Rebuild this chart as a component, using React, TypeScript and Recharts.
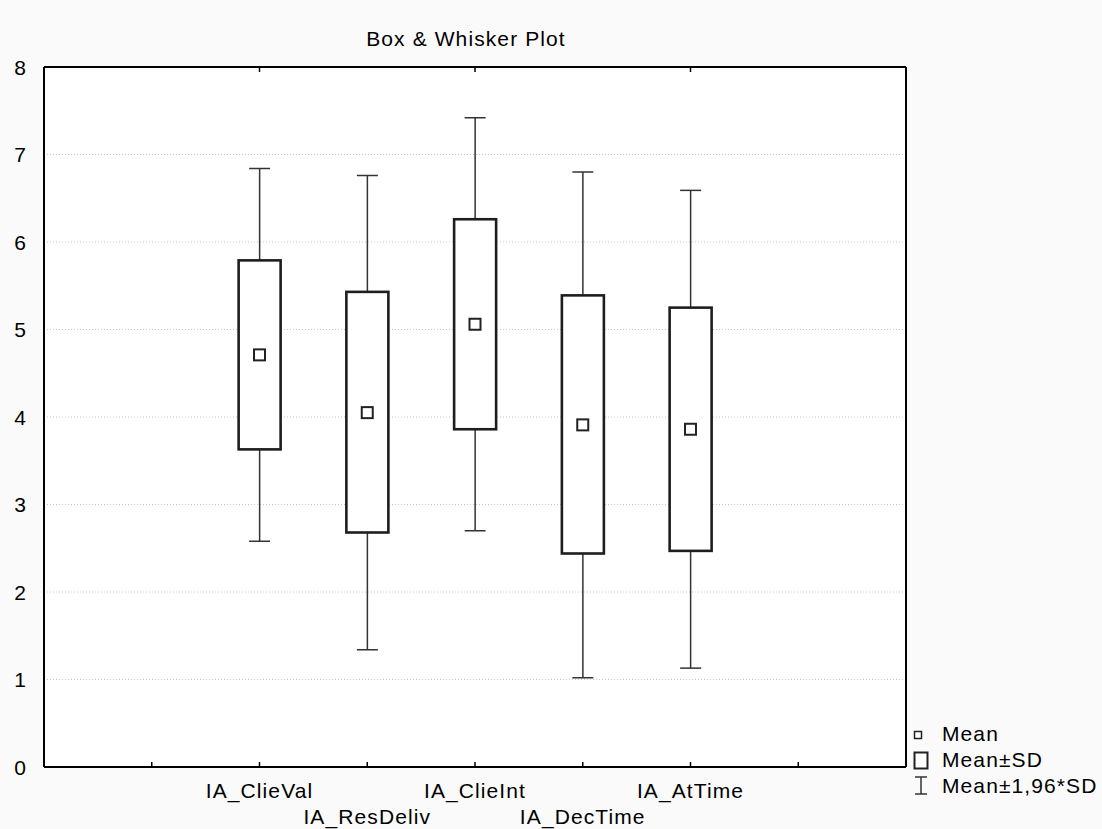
import { ComposedChart, Bar, Scatter, XAxis, YAxis, CartesianGrid } from 'recharts';

const categories = ['IA_ClieVal', 'IA_ResDeliv', 'IA_ClieInt', 'IA_DecTime', 'IA_AtTime'];
const slots = [2, 3, 4, 5, 6];
const means = [4.71, 4.05, 5.06, 3.91, 3.86];
const sdLow = [3.63, 2.68, 3.86, 2.44, 2.47];
const sdHigh = [5.79, 5.43, 6.26, 5.39, 5.25];
const whiskLow = [2.58, 1.34, 2.7, 1.02, 1.13];
const whiskHigh = [6.84, 6.76, 7.42, 6.8, 6.59];
const xTicks = [1, 2, 3, 4, 5, 6, 7];
const yTicks = [0, 1, 2, 3, 4, 5, 6, 7, 8];

const data = categories.map((name, i) => ({
  name,
  slot: slots[i],
  mean: means[i],
  sdLow: sdLow[i],
  sdHigh: sdHigh[i],
  whiskLow: whiskLow[i],
  whiskHigh: whiskHigh[i],
}));

const FONT = '"Liberation Sans", Arial, sans-serif';

// whole box drawn from the whisker range the bar gets from the y scale
const BoxShape = (props: any) => {
  const { x, y, width, height, payload } = props;
  const k = height / (payload.whiskHigh - payload.whiskLow);
  const py = (v: number) => y + (payload.whiskHigh - v) * k;
  const cx = x + width / 2;
  const cap = 10.5;
  const boxW = 42;
  const top = py(payload.sdHigh);
  const bot = py(payload.sdLow);
  return (
    <g>
      <line x1={cx} x2={cx} y1={y} y2={y + height} stroke="#333" strokeWidth={1.5} />
      <line x1={cx - cap} x2={cx + cap} y1={y} y2={y} stroke="#333" strokeWidth={1.5} />
      <line x1={cx - cap} x2={cx + cap} y1={y + height} y2={y + height} stroke="#333" strokeWidth={1.5} />
      <rect x={cx - boxW / 2} y={top} width={boxW} height={bot - top} fill="#fff" stroke="#1e1e1e" strokeWidth={2.6} />
    </g>
  );
};

const MeanShape = (props: any) => {
  const { cx, cy } = props;
  return <rect x={cx - 5.5} y={cy - 5.5} width={11} height={11} fill="#fff" stroke="#222" strokeWidth={2} />;
};

const BottomTick = (props: any) => {
  const { x, y, payload } = props;
  const idx = slots.indexOf(payload.value);
  return (
    <g>
      <line x1={x} x2={x} y1={y} y2={y - 5} stroke="#000" strokeWidth={1.5} />
      {idx >= 0 && (
        <text
          x={x}
          y={y + (idx % 2 === 0 ? 31 : 57)}
          textAnchor="middle"
          fontSize={21}
          fontFamily={FONT}
          letterSpacing={1.1}
          fill="#000"
        >
          {categories[idx]}
        </text>
      )}
    </g>
  );
};

const TopTick = (props: any) => {
  const { x, y } = props;
  return <line x1={x} x2={x} y1={y} y2={y + 5} stroke="#000" strokeWidth={1.5} />;
};

const LeftTick = (props: any) => {
  const { x, y, payload } = props;
  return (
    <text x={x} y={y + 7.5} textAnchor="end" fontSize={21} fontFamily={FONT} fill="#000">
      {payload.value}
    </text>
  );
};

const Overlay = () => (
  <svg width={1102} height={829} style={{ position: 'absolute', left: 0, top: 0, pointerEvents: 'none' }}>
    <text x={466} y={46} textAnchor="middle" fontSize={21} letterSpacing={1.1} fontFamily={FONT} fill="#000">
      Box & Whisker Plot
    </text>
    <g fontFamily={FONT} fontSize={21} letterSpacing={1.1} fill="#000">
      <rect x={914.5} y={731.5} width={7} height={7} fill="#fff" stroke="#222" strokeWidth={1.5} />
      <text x={942} y={741}>Mean</text>
      <rect x={914.5} y={752.5} width={13} height={16} fill="#fff" stroke="#222" strokeWidth={2} />
      <text x={942} y={767}>Mean±SD</text>
      <line x1={921} x2={921} y1={777} y2={794} stroke="#333" strokeWidth={1.5} />
      <line x1={915} x2={927} y1={777} y2={777} stroke="#333" strokeWidth={1.5} />
      <line x1={915} x2={927} y1={794} y2={794} stroke="#333" strokeWidth={1.5} />
      <text x={942} y={793}>Mean±1,96*SD</text>
    </g>
  </svg>
);

export default function App() {
  return (
    <div style={{ position: 'absolute', left: 0, top: 0, width: 1102, height: 829, background: '#fafafa' }}>
      <ComposedChart
        width={1102}
        height={829}
        data={data}
        margin={{ top: 66, right: 195, bottom: 0, left: 0 }}
        style={{ fontFamily: FONT }}
      >
        <CartesianGrid
          vertical={false}
          horizontal
          fill="#fff"
          stroke="#c8c8c8"
          strokeDasharray="1 2"
        />
        <XAxis
          dataKey="slot"
          type="number"
          domain={[0, 8]}
          ticks={xTicks}
          interval={0}
          height={62}
          tickSize={0}
          tickMargin={0}
          tickLine={false}
          axisLine={{ stroke: '#000', strokeWidth: 2 }}
          tick={<BottomTick />}
        />
        <XAxis
          xAxisId="top"
          orientation="top"
          type="number"
          domain={[0, 8]}
          ticks={xTicks}
          interval={0}
          height={1}
          tickSize={0}
          tickMargin={0}
          tickLine={false}
          axisLine={{ stroke: '#000', strokeWidth: 2 }}
          tick={<TopTick />}
        />
        <YAxis
          type="number"
          domain={[0, 8]}
          ticks={yTicks}
          interval={0}
          width={44}
          tickLine={false}
          tickMargin={12}
          axisLine={{ stroke: '#000', strokeWidth: 2 }}
          tick={<LeftTick />}
        />
        <YAxis
          yAxisId="right"
          orientation="right"
          type="number"
          domain={[0, 8]}
          width={1}
          tick={false}
          tickLine={false}
          axisLine={{ stroke: '#000', strokeWidth: 2 }}
        />
        <Bar
          dataKey={(d: any) => [d.whiskLow, d.whiskHigh]}
          barSize={42}
          isAnimationActive={false}
          shape={(p: any) => <BoxShape {...p} />}
        />
        <Scatter dataKey="mean" isAnimationActive={false} shape={(p: any) => <MeanShape {...p} />} />
      </ComposedChart>
      <Overlay />
    </div>
  );
}
